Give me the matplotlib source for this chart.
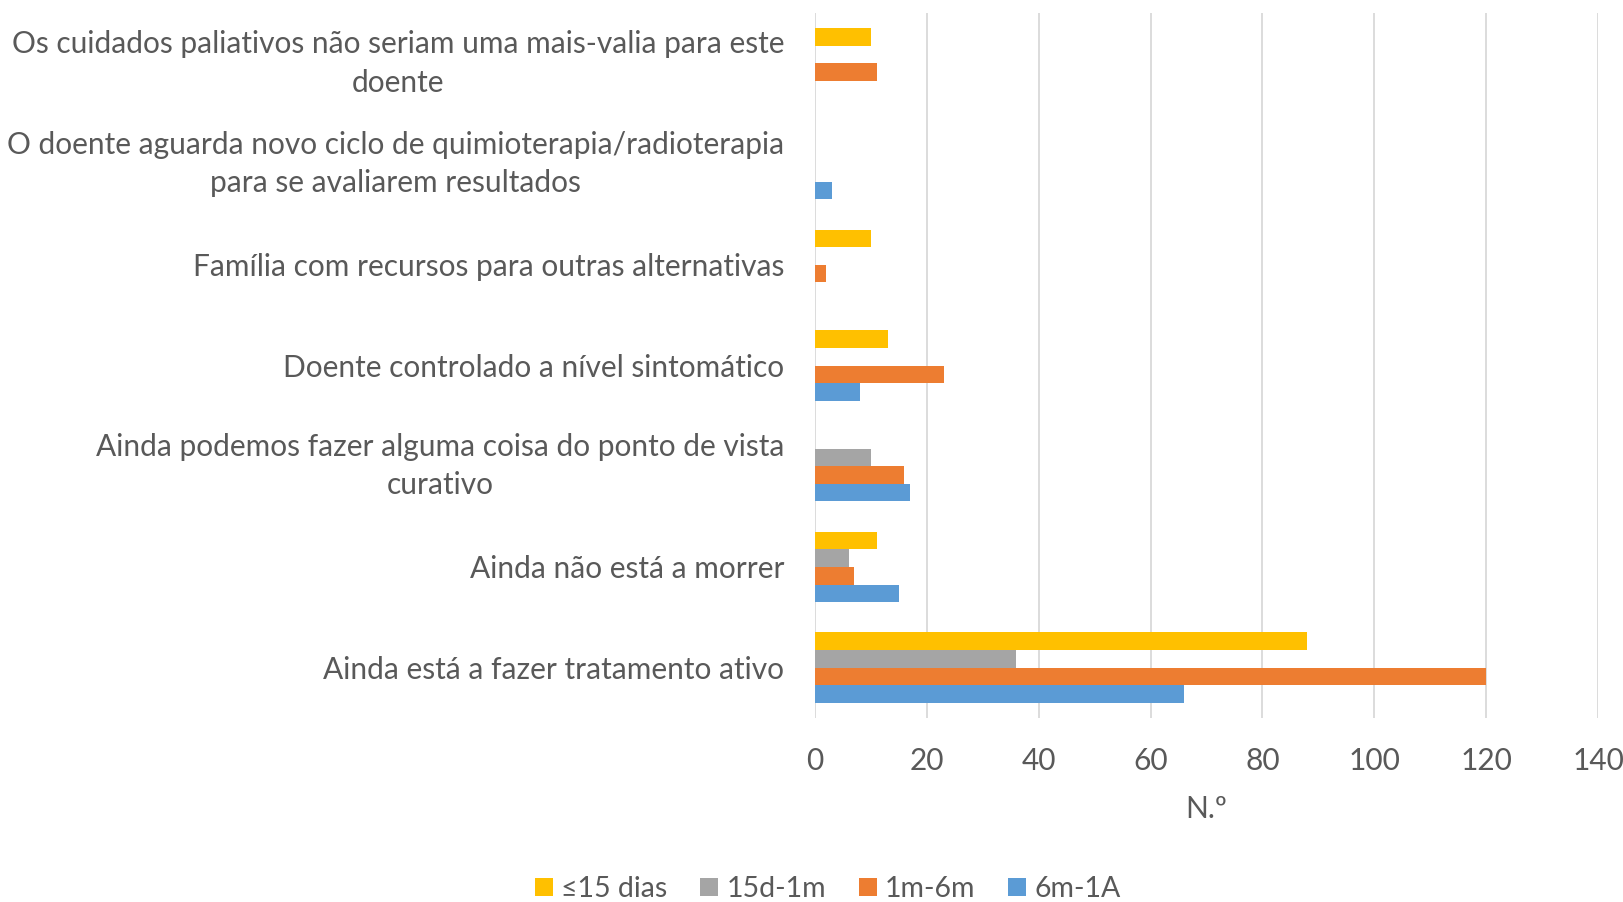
import numpy as np
import matplotlib
matplotlib.use('Agg')
import matplotlib.pyplot as plt

### Motivos para nao referenciar - barras horizontais agrupadas

categorias = [
    'Ainda está a fazer tratamento ativo',
    'Ainda não está a morrer',
    'Ainda podemos fazer alguma coisa do ponto de vista\ncurativo',
    'Doente controlado a nível sintomático',
    'Família com recursos para outras alternativas',
    'O doente aguarda novo ciclo de quimioterapia/radioterapia\npara se avaliarem resultados',
    'Os cuidados paliativos não seriam uma mais-valia para este\ndoente',
]

series_nomes = ['≤15 dias', '15d-1m', '1m-6m', '6m-1A']
ate_15_dias = [88, 11, 0, 13, 10, 0, 10]
d15_1m = [36, 6, 10, 0, 0, 0, 0]
m1_6m = [120, 7, 16, 23, 2, 0, 11]
m6_1a = [66, 15, 17, 8, 0, 3, 0]

cores = ['#FFC000', '#A5A5A5', '#ED7D31', '#5B9BD5']
texto = '#595959'

plt.rcParams['font.family'] = ['Lato', 'DejaVu Sans']

fig = plt.figure(figsize=(16.24, 9.02), dpi=100)
ax = fig.add_axes([815 / 1624., 1 - 718 / 902., (1598 - 815) / 1624., (718 - 13) / 902.])

y = np.arange(len(categorias))
h = 0.175
dados = [ate_15_dias, d15_1m, m1_6m, m6_1a]
# a primeira serie fica em cima em cada grupo
offs = [1.5 * h, 0.5 * h, -0.5 * h, -1.5 * h]
barras = []
for vals, cor, off, nome in zip(dados, cores, offs, series_nomes):
    b = ax.barh(y + off, vals, height=h, color=cor, label=nome, zorder=3)
    barras.append(b)

ax.set_xlim(0, 140)
ax.set_ylim(-0.5, len(categorias) - 0.5)
ax.set_xticks(np.arange(0, 141, 20))
ax.set_yticks(y)
ax.set_yticklabels(categorias, ha='right', multialignment='center', linespacing=1.45)
for lab in ax.get_yticklabels():
    if '\n' in lab.get_text():
        lab.set_va('center')
ax.grid(axis='x', color='#D9D9D9', linewidth=1.3, zorder=0)
for s in ax.spines.values():
    s.set_visible(False)
ax.tick_params(axis='y', length=0, pad=22, labelsize=21.5, labelcolor=texto)
ax.tick_params(axis='x', length=0, pad=21, labelsize=21.5, labelcolor=texto)
ax.set_xlabel('N.º', fontsize=21.5, color=texto, labelpad=14)

leg = fig.legend(handles=barras, labels=series_nomes, loc='center', bbox_to_anchor=(828 / 1624., 1 - 889 / 902.),
                 ncol=4, frameon=False, fontsize=20.5, handlelength=0.62, handleheight=0.62,
                 handletextpad=0.3, columnspacing=1.15)
for t in leg.get_texts():
    t.set_color(texto)

fig.savefig('out.png', dpi=100)
